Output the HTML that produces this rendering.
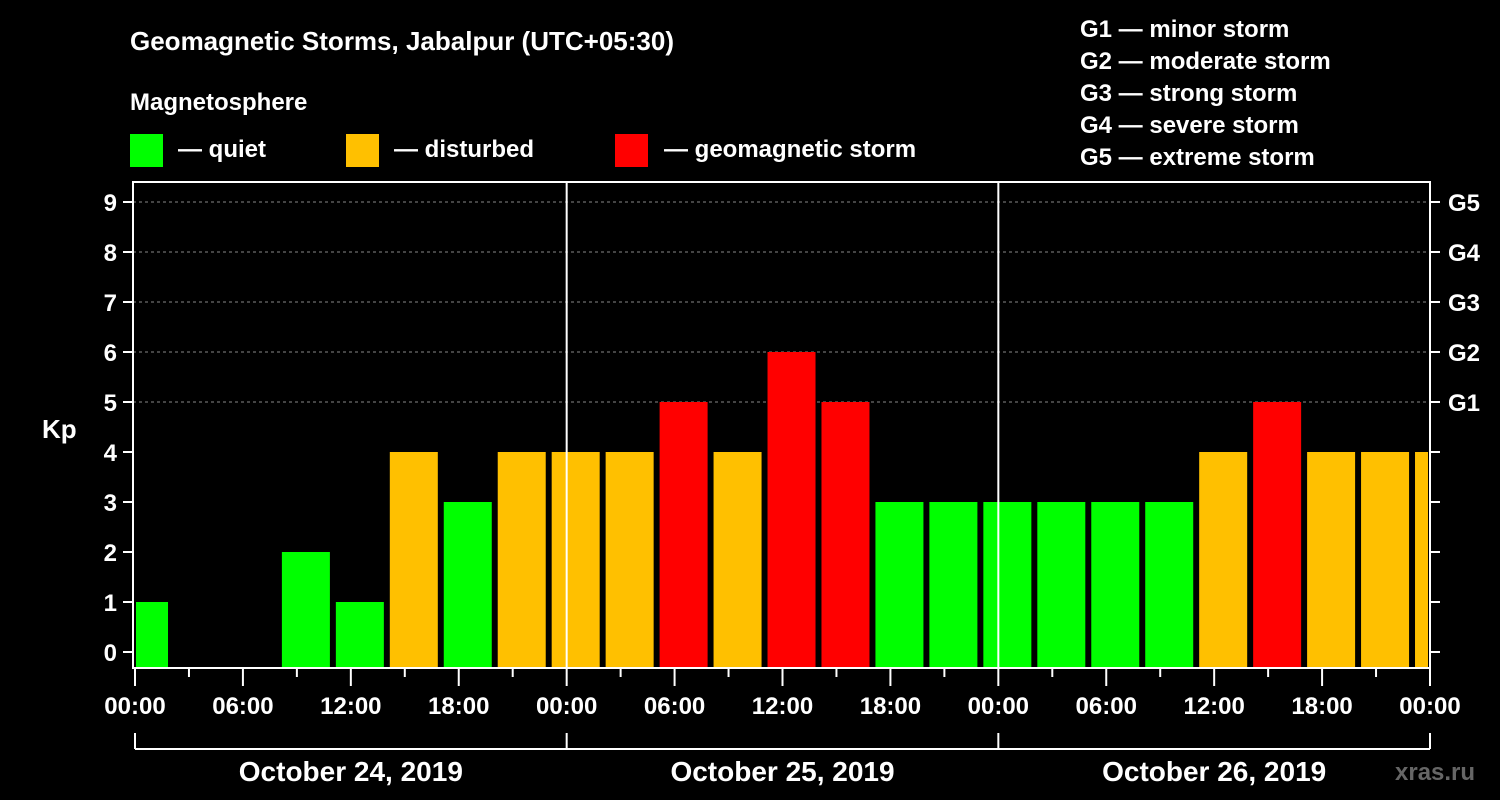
<!DOCTYPE html>
<html><head><meta charset="utf-8"><style>
body{margin:0;background:#000;width:1500px;height:800px;overflow:hidden}
svg{display:block;font-family:"Liberation Sans",Arial,sans-serif;font-weight:bold}
</style></head><body>
<svg id="c" width="1500" height="800">
<text x="130" y="50" fill="#fff" font-size="26">Geomagnetic Storms, Jabalpur (UTC+05:30)</text>
<text x="130" y="110" fill="#fff" font-size="24">Magnetosphere</text>
<g><rect x="130" y="134" width="33" height="33" fill="#00ff00"/><text x="178" y="157" fill="#fff" font-size="24">— quiet</text></g>
<g><rect x="346" y="134" width="33" height="33" fill="#ffc000"/><text x="394" y="157" fill="#fff" font-size="24">— disturbed</text></g>
<g><rect x="615" y="134" width="33" height="33" fill="#ff0000"/><text x="664" y="157" fill="#fff" font-size="24">— geomagnetic storm</text></g>
<g fill="#fff" font-size="24">
<text x="1080" y="37">G1 — minor storm</text><text x="1080" y="69">G2 — moderate storm</text><text x="1080" y="101">G3 — strong storm</text><text x="1080" y="133">G4 — severe storm</text><text x="1080" y="165">G5 — extreme storm</text></g>
<text x="42" y="438" fill="#fff" font-size="26">Kp</text>
<text x="1395" y="780" fill="#666" font-size="24">xras.ru</text>
<g id="plot"></g>
</svg>
<script>
const kpValues=[1,0,0,2,1,4,3,4, 4,4,5,4,6,5,3,3, 3,3,3,3,4,5,4,4,4];
const xTickLabels=["00:00","06:00","12:00","18:00","00:00","06:00","12:00","18:00","00:00","06:00","12:00","18:00","00:00"];
const dayLabels=["October 24, 2019","October 25, 2019","October 26, 2019"];
const gLabels=["G1","G2","G3","G4","G5"];
const firstBarHour=-0.833;
const NS="http://www.w3.org/2000/svg";
const L=133,R=1430,T=182,B=668,X0=135;
const xh=h=>X0+h*(1295/72);
const yv=v=>652-v*50;
const g=document.getElementById('plot');
function mk(t,a){const e=document.createElementNS(NS,t);for(const k in a)e.setAttribute(k,a[k]);g.appendChild(e);return e;}
// grid
for(let v=5;v<=9;v++){const e=mk('line',{x1:L,x2:R,y1:yv(v),y2:yv(v),stroke:'#888','stroke-dasharray':'3,3','stroke-width':1});

}
// bars
kpValues.forEach((v,i)=>{
 let x1=xh(firstBarHour+i*3), x2=x1+48;
 x1=Math.max(x1,136); x2=Math.min(x2,R-2);
 const col=v>=5?'#ff0000':(v>=4?'#ffc000':'#00ff00');
 const top=v===0?B:yv(v);
 const e=mk('rect',{x:x1,y:top,width:Math.max(0,x2-x1),height:B-top,fill:col});
 
 
});
// day separators
[1,2].forEach(d=>{const e=mk('line',{x1:xh(d*24),x2:xh(d*24),y1:T,y2:B,stroke:'#fff','stroke-width':2});

});
// frame
const f=mk('rect',{x:L,y:T,width:R-L,height:B-T,fill:'none',stroke:'#fff','stroke-width':2});


// y ticks
for(let v=0;v<=9;v++){
 mk('line',{x1:L-10,x2:L,y1:yv(v),y2:yv(v),stroke:'#fff','stroke-width':2});
 mk('line',{x1:R,x2:R+10,y1:yv(v),y2:yv(v),stroke:'#fff','stroke-width':2});
 const t=mk('text',{x:L-16,y:yv(v)+9,fill:'#fff','font-size':24,'text-anchor':'end'});t.textContent=v;
 
 
}
gLabels.forEach((s,i)=>{const t=mk('text',{x:1448,y:yv(5+i)+9,fill:'#fff','font-size':24});t.textContent=s;

});
// x ticks
for(let h=0;h<=72;h+=3){const x=xh(h);mk('line',{x1:x,x2:x,y1:B,y2:h%6===0?686:677,stroke:'#fff','stroke-width':2});}
xTickLabels.forEach((s,i)=>{const t=mk('text',{x:xh(i*6),y:714,fill:'#fff','font-size':24,'text-anchor':'middle'});t.textContent=s;

});
// day bracket
mk('line',{x1:xh(0),x2:xh(72),y1:749,y2:749,stroke:'#fff','stroke-width':2});
for(let d=0;d<=3;d++)mk('line',{x1:xh(d*24),x2:xh(d*24),y1:733,y2:749,stroke:'#fff','stroke-width':2});
dayLabels.forEach((s,i)=>{const t=mk('text',{x:xh(i*24+12),y:781,fill:'#fff','font-size':28,'text-anchor':'middle'});t.textContent=s;

});
</script>
</body></html>
